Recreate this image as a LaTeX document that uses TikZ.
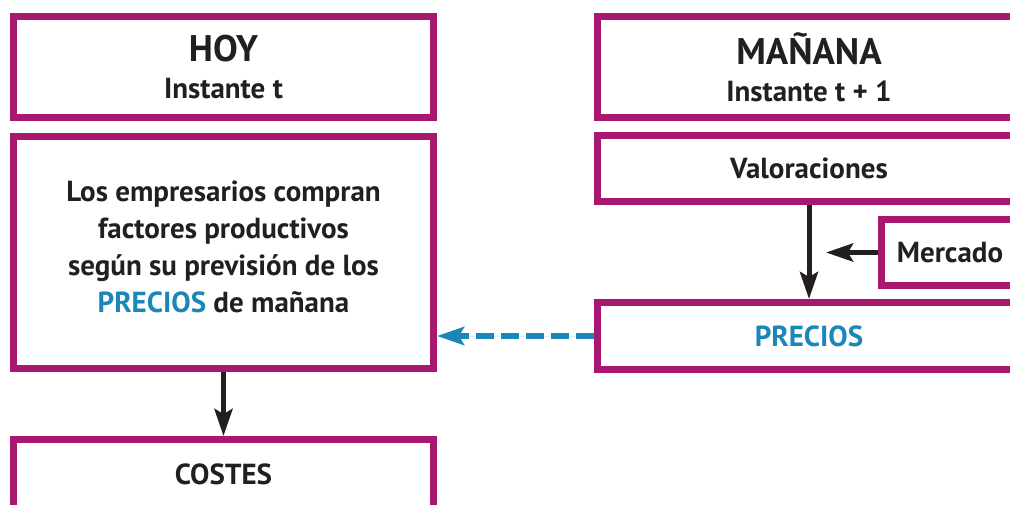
\documentclass[tikz,border=0pt]{standalone}
\usepackage{fontspec}
\setmainfont{PT Sans}
\usetikzlibrary{arrows.meta}
\definecolor{borde}{RGB}{168,24,112}
\definecolor{azul}{RGB}{27,135,184}
\definecolor{texto}{RGB}{35,31,32}

\begin{document}
\begin{tikzpicture}[x=1pt,y=-1pt,>={Stealth[length=27pt,width=18pt,inset=5pt]},
                    box/.style={rectangle,draw=borde,line width=7pt,fill=white,align=center,
                                text=texto,inner sep=0pt,font=\bfseries\fontsize{29}{37}\selectfont},
                    flecha/.style={->,line width=5pt,draw=texto,fill=texto},
                    salto/.style={->,line width=6pt,draw=azul,fill=azul,dash pattern=on 18pt off 7pt}]
  \useasboundingbox (0,0) rectangle (1010,504);
  % columna de hoy
  \node[box,minimum width=420pt,minimum height=101pt] (hoy) at (223.5,67)
    {{\fontsize{37}{38}\selectfont HOY}\\Instante t};
  \node[box,minimum width=420pt,minimum height=232pt,text depth=12pt] (empresarios) at (223.5,252.5)
    {Los empresarios compran\\factores productivos\\según su previsión de los\\
     {\color{azul}PRECIOS} de mañana};
  \node[box,minimum width=420pt,minimum height=70pt] (costes) at (223.5,474.5) {COSTES};
  % columna de mañana
  \node[box,minimum width=423pt,minimum height=101pt] (manana) at (809,67)
    {{\fontsize{37}{38}\selectfont MAÑANA}\\Instante t + 1};
  \node[box,minimum width=423pt,minimum height=66pt] (valoraciones) at (809,168.5) {Valoraciones};
  \node[box,minimum width=137pt,minimum height=66pt] (mercado) at (950,252.5) {Mercado};
  \node[box,minimum width=423pt,minimum height=67pt,text=azul] (precios) at (809,336) {PRECIOS};
  \coordinate (llegada) at (826,252.5);

  \draw[flecha] (valoraciones.south) -- (precios.north);
  \draw[flecha] (mercado.west) -- (llegada);
  \draw[flecha] (empresarios.south) -- (costes.north);
  \draw[salto] (precios.west) -- (precios.west -| empresarios.east);
\end{tikzpicture}
\end{document}
